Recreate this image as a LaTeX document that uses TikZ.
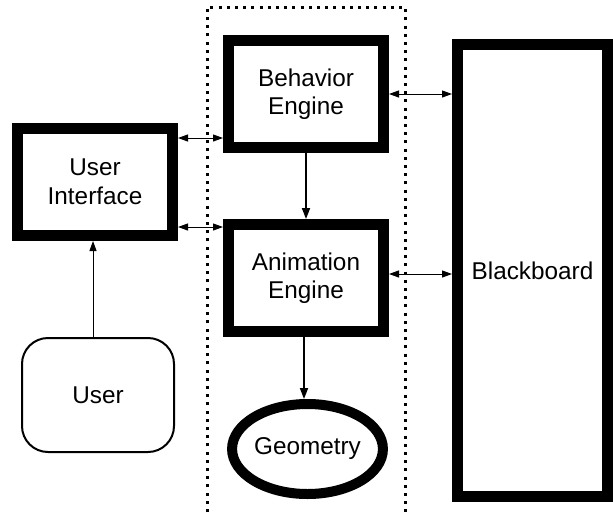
\documentclass[tikz,border=0pt]{standalone}
\usepackage{fontspec}
\setmainfont{Liberation Sans}
\usetikzlibrary{arrows.meta,shapes.geometric}
\begin{document}
\begin{tikzpicture}[x=1pt,y=-1pt,
  thickbox/.style={draw,line width=11pt,minimum width=155pt,minimum height=107pt,inner sep=0pt,align=center,font=\fontsize{24.3}{28.5}\selectfont},
  lbl/.style={font=\fontsize{24.3}{28.5}\selectfont},
  harr/.style={line width=1pt,{Triangle[length=10pt,width=7pt]}-{Triangle[length=10pt,width=7pt]}},
  varr/.style={line width=1.8pt,-{Triangle[length=11pt,width=8pt]}},
  uarr/.style={line width=1pt,-{Triangle[length=10pt,width=7pt]}},
  dotbox/.style={line width=3pt,dash pattern=on 3pt off 5.2pt}
]
\useasboundingbox (0,0) rectangle (613,512);
\draw[dotbox] (207,512) -- (207,7) -- (405,7) -- (405,512);

\node[thickbox] (beh) at (306,94) {Behavior\\Engine};
\node[thickbox] (anim) at (306,278) {Animation\\Engine};
\node[thickbox] (ui) at (95,182) {User\\Interface};
\node[thickbox,minimum width=150pt,minimum height=452pt] (bb) at (532.5,270.5) {Blackboard};
\node[draw,line width=2pt,rounded corners=26pt,minimum width=152pt,minimum height=114pt,lbl] (user) at (98,395) {User};
\node[draw,ellipse,line width=10pt,minimum width=135pt,minimum height=90pt,inner sep=0pt,lbl] (geo) at (307.5,449) {Geometry};

\coordinate (ya) at (0,138);
\coordinate (yb) at (0,227);
\coordinate (yc) at (0,274);
\coordinate (xu) at (93,0);
\coordinate (xg) at (304,0);

\draw[harr] (ui.east |- ya) -- (beh.west |- ya);
\draw[harr] (ui.east |- yb) -- (anim.west |- yb);
\draw[harr] (beh.east) -- (beh.east -| bb.west);
\draw[harr] (anim.east |- yc) -- (bb.west |- yc);
\draw[varr] (beh.south) -- (anim.north);
\draw[varr] (anim.south -| xg) -- (geo.north -| xg);
\draw[uarr] (user.north -| xu) -- (ui.south -| xu);
\end{tikzpicture}
\end{document}
